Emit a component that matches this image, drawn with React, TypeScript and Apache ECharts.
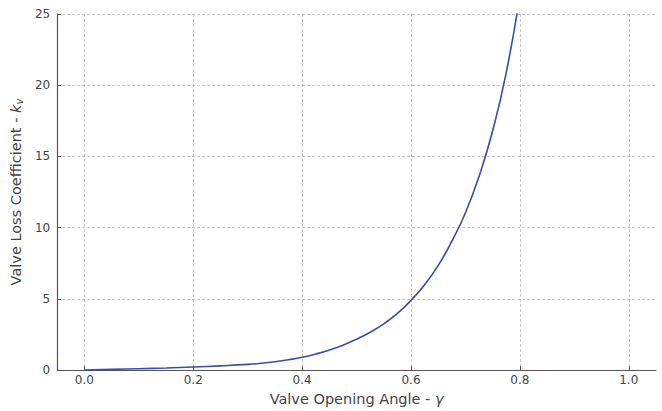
import React, { useEffect, useRef } from "react";
import * as echarts from "echarts";

const openingAngle = [0, 0.05, 0.1, 0.15, 0.2, 0.25, 0.3, 0.325, 0.35, 0.375, 0.4, 0.425, 0.45, 0.475, 0.5, 0.525, 0.55, 0.575, 0.6, 0.625, 0.65, 0.675, 0.7, 0.725, 0.75, 0.775, 0.8];
const lossCoefficient = [0, 0.05, 0.1, 0.15, 0.22, 0.3, 0.4, 0.48, 0.59, 0.73, 0.9, 1.13, 1.41, 1.75, 2.17, 2.66, 3.25, 3.98, 4.9, 6.0, 7.35, 9.05, 11.05, 13.6, 16.8, 20.9, 26.3];
const xTicks = [0, 0.2, 0.4, 0.6, 0.8, 1.0];

const FONT = "DejaVu Sans";

export default function App() {
  const ref = useRef<HTMLDivElement>(null);
  useEffect(() => {
    if (!ref.current) return;
    const chart = echarts.init(ref.current, undefined, { renderer: "svg" });
    const data = openingAngle.map((x, i) => [x, lossCoefficient[i]]);
    chart.setOption({
      animation: false,
      backgroundColor: "#ffffff",
      textStyle: { fontFamily: FONT },
      grid: { left: 55, right: 6, top: 14, bottom: 39, containLabel: false },
      xAxis: {
        type: "value",
        min: -0.05,
        max: 1.05,
        name: "Valve Opening Angle - {g|γ}",
        nameLocation: "middle",
        nameGap: 18,
        nameTextStyle: {
          fontFamily: FONT,
          fontSize: 14.5,
          color: "#444",
          verticalAlign: "top",
          rich: { g: { fontFamily: FONT, fontSize: 14.5, fontStyle: "italic", color: "#444" } },
        },
        axisLine: { show: true, onZero: false, lineStyle: { color: "#555", width: 1.2 } },
        axisTick: { show: true, inside: true, length: 4, customValues: xTicks, lineStyle: { color: "#555" } },
        axisLabel: {
          customValues: xTicks,
          formatter: (v: number) => v.toFixed(1),
          fontFamily: FONT,
          fontSize: 12,
          color: "#444",
          margin: 4,
        },
        splitLine: { show: true, lineStyle: { color: "#b8b8b8", type: [3, 2], width: 0.8 } },
      },
      yAxis: {
        type: "value",
        min: 0,
        max: 25,
        interval: 5,
        name: "Valve Loss Coefficient - {k|k}{v|v}",
        nameLocation: "middle",
        nameRotate: 90,
        nameGap: 21,
        nameTextStyle: {
          fontFamily: FONT,
          fontSize: 14.5,
          color: "#444",
          rich: {
            k: { fontFamily: FONT, fontSize: 14.5, fontStyle: "italic", color: "#444" },
            v: { fontFamily: FONT, fontSize: 10, fontStyle: "italic", color: "#444", padding: [7, 0, 0, 0] },
          },
        },
        axisLine: { show: true, onZero: false, lineStyle: { color: "#555", width: 1.2 } },
        axisTick: { show: true, inside: true, length: 4, lineStyle: { color: "#555" } },
        axisLabel: { fontFamily: FONT, fontSize: 12, color: "#444", margin: 7 },
        splitLine: { show: true, lineStyle: { color: "#b8b8b8", type: [3, 2], width: 0.8 } },
      },
      series: [
        {
          type: "line",
          data,
          smooth: 0.5,
          showSymbol: false,
          clip: true,
          lineStyle: { color: "#3a4fa3", width: 1.6 },
          itemStyle: { color: "#3a4fa3" },
        },
      ],
    });
    return () => chart.dispose();
  }, []);
  return (
    <div
      ref={ref}
      style={{ position: "fixed", left: 0, top: 0, width: 662, height: 411, background: "#fff" }}
    />
  );
}
